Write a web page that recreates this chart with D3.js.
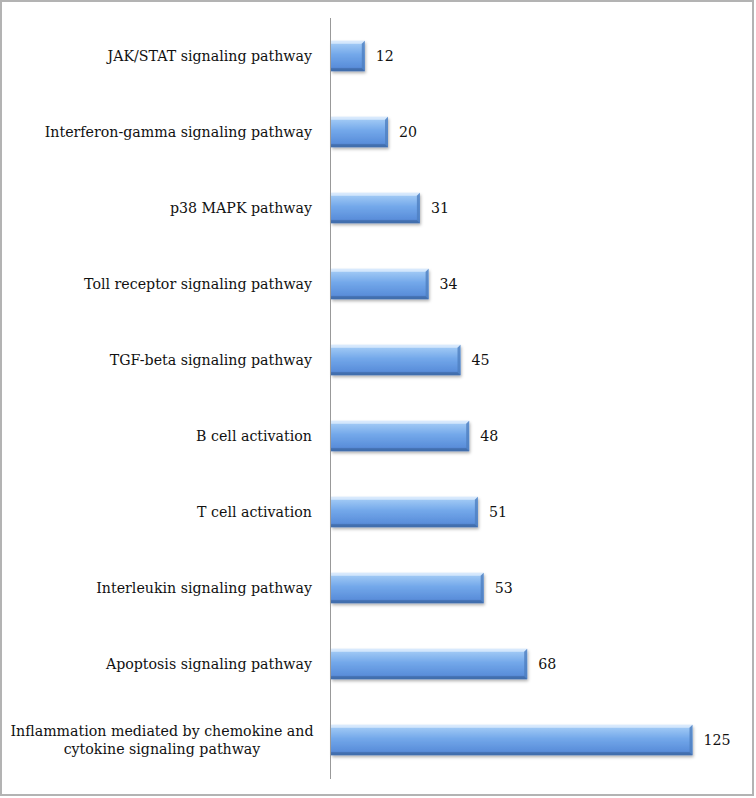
<!DOCTYPE html>
<html><head><meta charset="utf-8">
<script src="https://cdn.jsdelivr.net/npm/d3@7/dist/d3.min.js"></script>
<style>body{margin:0;background:#fff}svg{display:block}</style>
</head><body>
<script>
const categories = [
  "JAK/STAT signaling pathway",
  "Interferon-gamma signaling pathway",
  "p38 MAPK pathway",
  "Toll receptor signaling pathway",
  "TGF-beta signaling pathway",
  "B cell activation",
  "T cell activation",
  "Interleukin signaling pathway",
  "Apoptosis signaling pathway",
  "Inflammation mediated by chemokine and cytokine signaling pathway"
];
const values = [12, 20, 31, 34, 45, 48, 51, 53, 68, 125];
const labelLines = {
  "Inflammation mediated by chemokine and cytokine signaling pathway":
    ["Inflammation mediated by chemokine and", "cytokine signaling pathway"]
};

const W = 756, H = 798;
const FONT = "DejaVu Serif, Liberation Serif, serif";
const svg = d3.select("body").append("svg").attr("width", W).attr("height", H);
const defs = svg.append("defs");
const g1 = defs.append("linearGradient").attr("id","barg").attr("x1",0).attr("y1",0).attr("x2",0).attr("y2",1);
[[0,"#c6e0fb"],[0.12,"#9cc6f4"],[0.45,"#73a8ea"],[0.85,"#5b8fdb"],[1,"#4a78bf"]].forEach(([o,c])=>g1.append("stop").attr("offset",o).attr("stop-color",c));
const f = defs.append("filter").attr("id","sh").attr("x","-10%").attr("y","-20%").attr("width","130%").attr("height","160%");
f.append("feDropShadow").attr("dx",1).attr("dy",2).attr("stdDeviation",1.5).attr("flood-color","#000").attr("flood-opacity",0.3);

svg.append("rect").attr("x",1).attr("y",1).attr("width",W-4).attr("height",H-4)
  .attr("fill","#fff").attr("stroke","#b3b3b3").attr("stroke-width",2);

const x0 = 330;
const x = d3.scaleLinear().domain([0,140]).range([x0, x0 + 140*2.9]);
const y = d3.scaleBand().domain(categories).range([18, 778]).paddingInner(0.6).paddingOuter(0.3);

const bars = svg.append("g");
categories.forEach((c,i)=>{
  const v = values[i];
  const bx = x(0)+1, bw = x(v)-x(0)-1, by = y(c), bh = y.bandwidth();
  const gg = bars.append("g");
  gg.append("rect").attr("x",bx).attr("y",by).attr("width",bw).attr("height",bh)
    .attr("fill","url(#barg)").attr("filter","url(#sh)");
  const b = 3;
  gg.append("path").attr("d",`M${bx},${by}L${bx+bw},${by}L${bx+bw-b},${by+b}L${bx},${by+b}Z`).attr("fill","#e2f0fd").attr("opacity",0.7);
  gg.append("path").attr("d",`M${bx+bw},${by}L${bx+bw},${by+bh}L${bx+bw-b},${by+bh-b}L${bx+bw-b},${by+b}Z`).attr("fill","#4f7fc0").attr("opacity",0.8);
  gg.append("path").attr("d",`M${bx},${by+bh}L${bx+bw},${by+bh}L${bx+bw-b},${by+bh-b}L${bx},${by+bh-b}Z`).attr("fill","#3f6aa8").attr("opacity",0.8);
  svg.append("text").attr("x", x(v)+11).attr("y", by+bh/2).attr("dy","0.35em")
    .attr("font-family",FONT).attr("font-size",14.2).attr("fill","#111").text(v);
});

svg.append("line").attr("x1",x0+0.5).attr("x2",x0+0.5).attr("y1",18).attr("y2",779).attr("stroke","#999").attr("stroke-width",1);

categories.forEach(c=>{
  const lines = labelLines[c] || [c];
  const cy = y(c)+y.bandwidth()/2;
  const multi = lines.length>1;
  const t = svg.append("text").attr("text-anchor", multi ? "middle" : "end")
    .attr("font-family",FONT).attr("font-size",14.2).attr("fill","#111");
  const lh = 18;
  lines.forEach((l,k)=>{
    t.append("tspan").attr("x", multi ? 162 : 312).attr("y", cy + (k-(lines.length-1)/2)*lh).attr("dy","0.35em").text(l);
  });
});
</script>
</body></html>
